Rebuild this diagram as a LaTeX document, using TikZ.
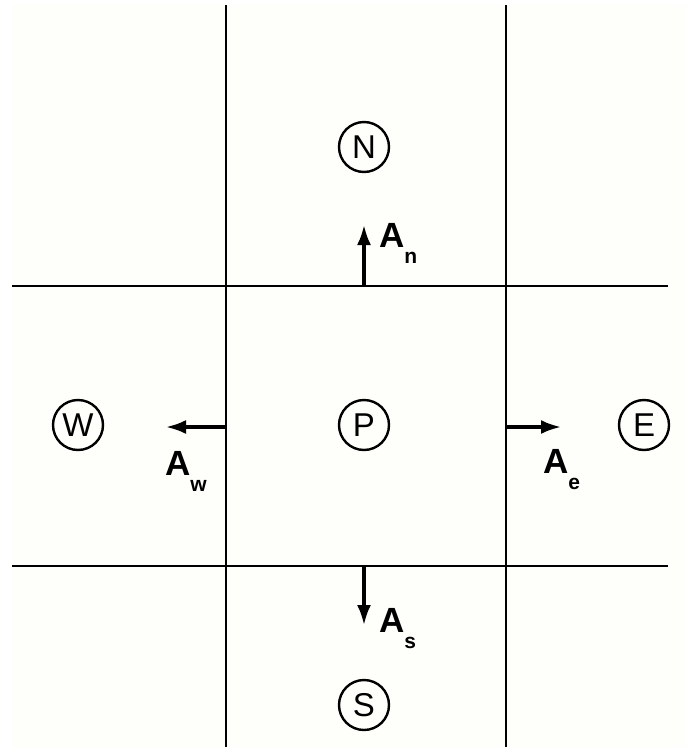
\documentclass[tikz,border=0pt]{standalone}
\usepackage{fontspec}
\setmainfont{Liberation Sans}
\usetikzlibrary{arrows.meta}
\definecolor{paper}{HTML}{FEFEFA}
\tikzset{
  gridline/.style={line width=1.3pt, black},
  cellnode/.style={circle, draw, line width=2.4pt, minimum size=50pt, inner sep=0pt, font=\fontsize{33}{33}\selectfont},
  facearrow/.style={line width=3.2pt, -{Latex[length=20pt,width=14pt]}},
  arealabel/.style={inner sep=0pt, font=\bfseries\fontsize{35}{35}\selectfont}
}
\newcommand{\areasub}[1]{\raisebox{-16pt}{\fontsize{21}{21}\selectfont #1}}
\begin{document}
\begin{tikzpicture}[x=1pt, y=-1pt]
  \useasboundingbox (0,0) rectangle (686,747);
  \fill[paper] (12,5) rectangle (686,747);

  % control-volume faces
  \coordinate (v1t) at (226,5);   \coordinate (v1b) at (226,747);
  \coordinate (v2t) at (506,5);   \coordinate (v2b) at (506,747);
  \coordinate (h1l) at (12,286);  \coordinate (h1r) at (668,286);
  \coordinate (h2l) at (12,566);  \coordinate (h2r) at (668,566);
  \draw[gridline] (v1t) -- (v1b);
  \draw[gridline] (v2t) -- (v2b);
  \draw[gridline] (h1l) -- (h1r);
  \draw[gridline] (h2l) -- (h2r);

  % nodal points
  \node[cellnode] (N) at (364,147) {N};
  \node[cellnode] (W) at (78,425) {W};
  \node[cellnode] (P) at (364,425) {P};
  \node[cellnode] (E) at (644,425) {E};
  \node[cellnode] (S) at (364,705) {S};

  % face area vectors
  \coordinate (fn) at (364,286);  \coordinate (tn) at (364,225);
  \coordinate (fw) at (226,427);  \coordinate (tw) at (166,427);
  \coordinate (fe) at (506,427);  \coordinate (te) at (561,427);
  \coordinate (fs) at (364,566);  \coordinate (ts) at (364,625);
  \draw[facearrow] (fn) -- (tn);
  \draw[facearrow] (fw) -- (tw);
  \draw[facearrow] (fe) -- (te);
  \draw[facearrow] (fs) -- (ts);

  \node[arealabel, anchor=base west] (An) at (379,247) {A\areasub{n}};
  \node[arealabel, anchor=base west] (Aw) at (165,475) {A\areasub{w}};
  \node[arealabel, anchor=base west] (Ae) at (543,473) {A\areasub{e}};
  \node[arealabel, anchor=base west] (As) at (379,632) {A\areasub{s}};
\end{tikzpicture}
\end{document}
